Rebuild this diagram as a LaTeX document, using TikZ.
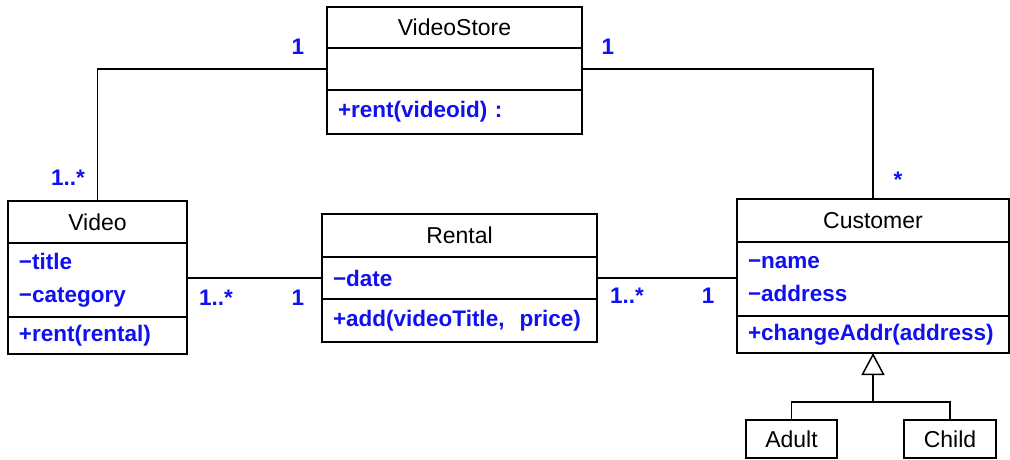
\documentclass[tikz,border=0pt]{standalone}
\usepackage{fontspec}
\setmainfont{Liberation Sans}
\usetikzlibrary{arrows.meta,positioning}
\definecolor{MemberBlue}{HTML}{1010F0}
\newcommand{\priv}{\char"2212}
\tikzset{
  classname/.style={draw,line width=1.5pt,inner sep=0pt,outer sep=0pt,font=\fontsize{23}{27}\selectfont},
  members/.style={draw,line width=1.5pt,inner xsep=11pt,inner ysep=0pt,outer sep=0pt,align=left,text=MemberBlue,font=\fontsize{22.5}{33}\selectfont\bfseries},
  assoc/.style={line width=1.5pt},
  inherit/.style={assoc,-{Triangle[open,length=22pt,width=23pt,line width=1.5pt]}},
  mult/.style={text=MemberBlue,font=\fontsize{22.5}{27}\selectfont\bfseries}
}
\begin{document}
\begin{tikzpicture}[x=1pt,y=-1pt]
  \useasboundingbox (0,0) rectangle (1010,459);
  % classes, one node per compartment
  \node[classname,minimum width=255pt,minimum height=41pt,anchor=north west] (store) at (327,7) {VideoStore};
  \node[members,text width=233pt,minimum height=42pt,below=0pt of store] (storeAttr) {};
  \node[members,text width=233pt,minimum height=44pt,below=0pt of storeAttr] (storeOps) {+rent(videoid)\ :};

  \node[classname,minimum width=179pt,minimum height=42pt,anchor=north west] (video) at (8,201) {Video};
  \node[members,text width=157pt,minimum height=74pt,below=0pt of video] (videoAttr) {\priv title\\\priv category};
  \node[members,text width=157pt,minimum height=37pt,below=0pt of videoAttr] (videoOps) {+rent(rental)};

  \node[classname,minimum width=275pt,minimum height=43pt,anchor=north west] (rental) at (322,214) {Rental};
  \node[members,text width=253pt,minimum height=42pt,below=0pt of rental] (rentalAttr) {\priv date};
  \node[members,text width=253pt,minimum height=43pt,below=0pt of rentalAttr] (rentalOps) {+add(videoTitle,\ \ price)};

  \node[classname,minimum width=272pt,minimum height=43pt,anchor=north west] (customer) at (737,199) {Customer};
  \node[members,text width=250pt,minimum height=74pt,below=0pt of customer] (customerAttr) {\priv name\\\priv address};
  \node[members,text width=250pt,minimum height=37pt,below=0pt of customerAttr] (customerOps) {+changeAddr(address)};

  \node[classname,minimum width=91pt,minimum height=38pt,anchor=north west] (adult) at (746,420) {Adult};
  \node[classname,minimum width=92pt,minimum height=38pt,anchor=north west] (child) at (904,420) {Child};

  % associations
  \draw[assoc] (video.north) |- (storeAttr.west);
  \draw[assoc] (customer.north) |- (storeAttr.east);
  \draw[assoc] (videoAttr.east |- rentalAttr.west) -- (rentalAttr.west);
  \draw[assoc] (rentalAttr.east) -- (rentalAttr.east -| customerAttr.west);

  % generalization
  \coordinate (split) at ([yshift=-49pt]customerOps.south);
  \draw[inherit] (split) -- (customerOps.south);
  \draw[assoc] (adult.north) |- (split) -| (child.north);

  % multiplicities
  \node[mult] (storeVideoM) at (298,47) {1};
  \node[mult] (storeCustM) at (608,47) {1};
  \node[mult] (videoStoreM) at (68,178) {1..*};
  \node[mult] (custStoreM) at (898,180) {*};
  \node[mult] (videoRentalM) at (216,298) {1..*};
  \node[mult] (rentalVideoM) at (298,298) {1};
  \node[mult] (rentalCustM) at (627,296) {1..*};
  \node[mult] (custRentalM) at (708,296) {1};
\end{tikzpicture}
\end{document}
